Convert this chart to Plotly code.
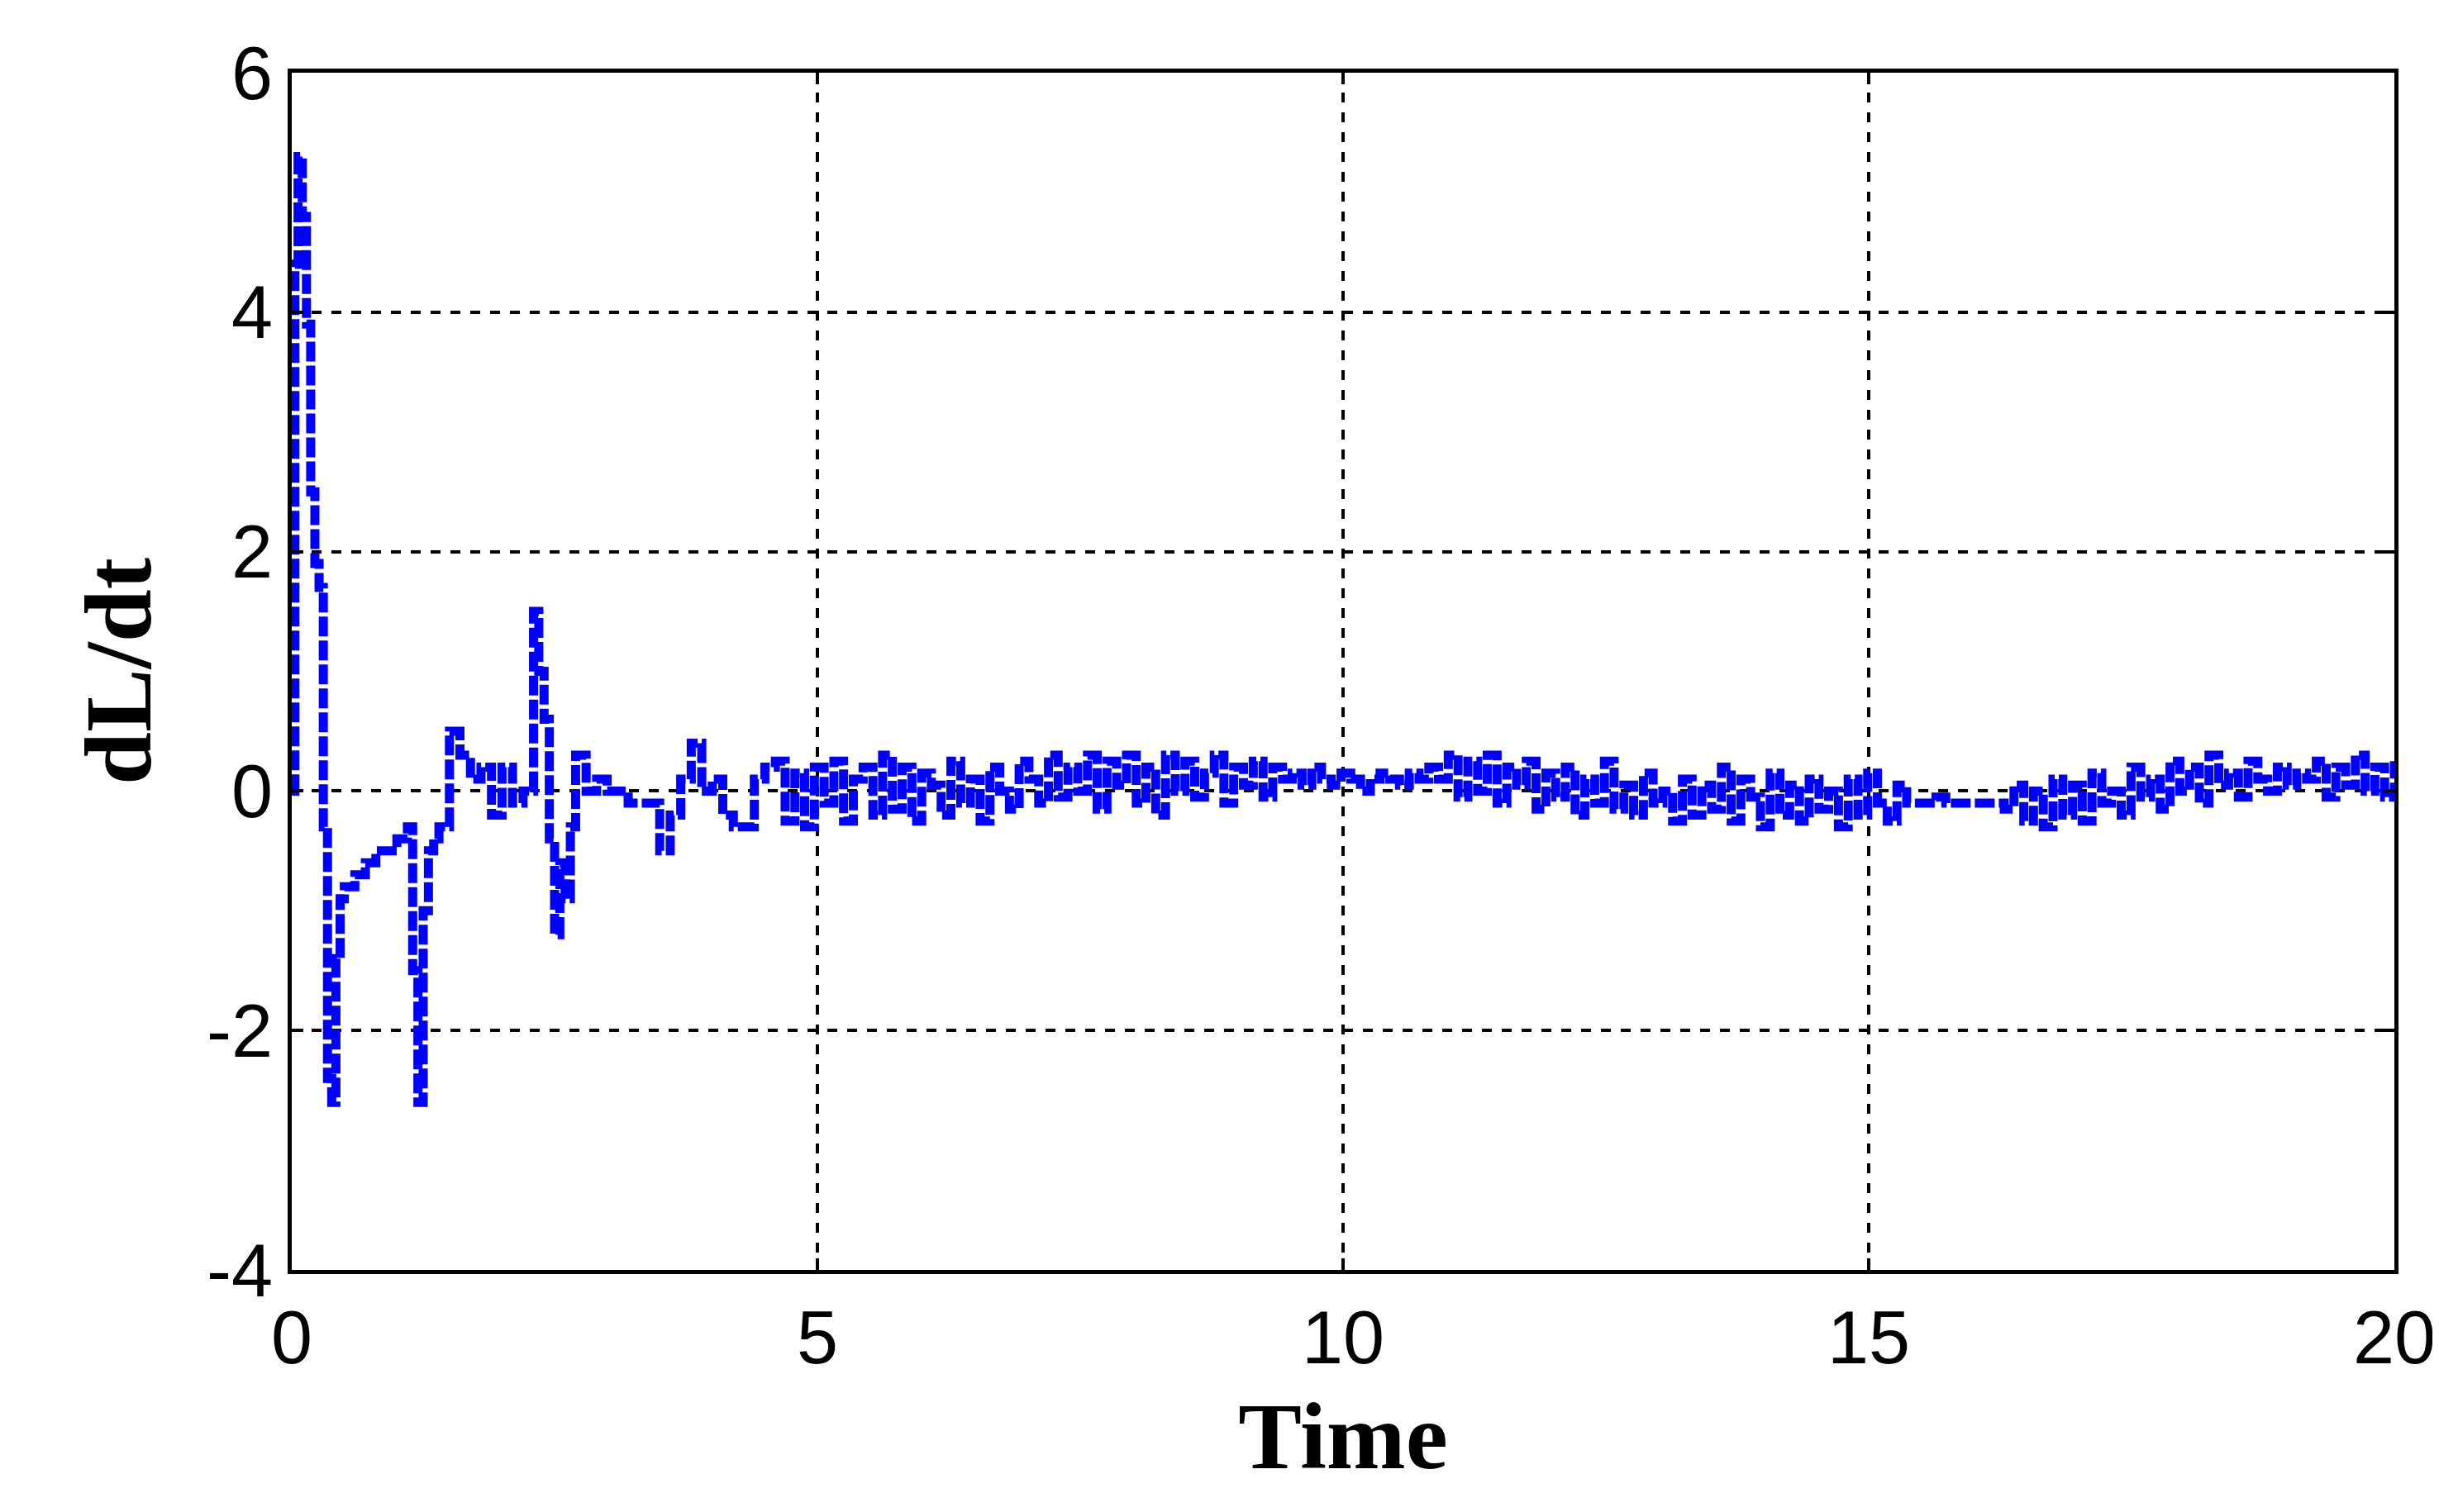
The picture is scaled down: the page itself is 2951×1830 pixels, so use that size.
import plotly.graph_objects as go

# early transient (hand-read)
t_early = [0, 0.03, 0.06, 0.1, 0.14, 0.18, 0.22, 0.26, 0.3, 0.34, 0.38, 0.42, 0.46, 0.5,
           0.6, 0.7, 0.8, 0.9, 1.0, 1.1, 1.15, 1.2, 1.25, 1.3, 1.35, 1.4, 1.5, 1.6, 1.7,
           1.8, 1.9, 2.0, 2.1, 2.2, 2.3, 2.35, 2.4, 2.45, 2.5, 2.55, 2.6, 2.65, 2.7, 2.8,
           2.9, 3.0, 3.2, 3.4, 3.5, 3.6, 3.7, 3.8, 3.9, 4.0, 4.1, 4.2, 4.3, 4.4, 4.5]
y_early = [0, 4.4, 5.3, 4.8, 3.9, 2.5, 1.9, 1.7, -0.3, -2.4, -2.6, -1.4, -0.9, -0.8,
           -0.7, -0.6, -0.5, -0.5, -0.4, -0.3, -1.5, -2.6, -1.0, -0.5, -0.4, -0.3, 0.5, 0.3, 0.1,
           0.2, -0.2, 0.2, -0.1, 0.0, 1.5, 1.0, 0.6, -0.4, -1.2, -0.6, -0.9, -0.3, 0.3, 0.0,
           0.1, 0.0, -0.1, -0.1, -0.5, -0.2, 0.1, 0.4, 0.0, 0.1, -0.2, -0.3, -0.3, 0.1, 0.2]

# steady noisy part (hand-read, dense)
y_tail = [0.25, -0.25, 0.15, -0.3, 0.2, -0.1, 0.25, -0.25, 0.1, 0.2, -0.2, 0.3, -0.15,
          0.2, -0.25, 0.15, 0.05, -0.2, 0.25, -0.1, 0.1, -0.25, 0.2, 0.0, -0.15, 0.25,
          0.1, -0.1, 0.3, -0.05, 0.2, 0.0, 0.3, -0.15, 0.25, 0.05, 0.3, -0.1, 0.2, -0.2,
          0.3, 0.0, 0.25, -0.05, 0.15, 0.3, -0.1, 0.2, 0.05, 0.25, -0.05, 0.2, 0.1, 0.15,
          0.05, 0.2, 0.1, 0.05, 0.15, 0.1, 0.0, 0.1, 0.15, 0.1, 0.05, 0.15, 0.1, 0.2,
          0.1, 0.3, -0.05, 0.25, 0.0, 0.3, -0.1, 0.2, 0.05, 0.25, -0.15, 0.15, -0.05,
          0.2, -0.2, 0.1, -0.1, 0.25, -0.15, 0.05, -0.2, 0.15, -0.1, 0.0, -0.25, 0.1,
          -0.2, 0.05, -0.15, 0.2, -0.25, 0.1, -0.05, -0.3, 0.15, -0.2, 0.05, -0.25, 0.1,
          -0.15, 0.0, -0.3, 0.1, -0.2, 0.15, -0.1, -0.25, 0.05, -0.1, -0.1, -0.1, -0.05,
          -0.1, -0.1, -0.1, -0.1, -0.1, -0.1, -0.15, 0.05, -0.25, 0.0, -0.3, 0.1, -0.2,
          0.05, -0.25, 0.15, -0.1, 0.0, -0.2, 0.2, -0.05, 0.1, -0.15, 0.25, 0.0, 0.2,
          -0.1, 0.3, 0.05, 0.15, -0.05, 0.25, 0.1, 0.0, 0.2, 0.05, 0.15, 0.1, 0.25,
          -0.05, 0.2, 0.05, 0.3, 0.0, 0.2, -0.05, 0.25]
t_tail = [round(4.6 + 15.4 * i / (len(y_tail) - 1), 3) for i in range(len(y_tail))]

x_ticks = [0, 5, 10, 15, 20]
x_labels = ["0", "5", "10", "15", "20"]
y_ticks = [-4, -2, 0, 2, 4, 6]
y_labels = ["-4", "-2", "0", "2", "4", "6"]

t = t_early + t_tail
y = y_early + y_tail

fig = go.Figure(go.Scatter(x=t, y=y, mode="lines",
                           line=dict(color="#0000ff", width=11, dash="24px,5px", shape="hv")))

axis = dict(showline=True, linecolor="black", linewidth=5, mirror="ticks",
            ticks="inside", ticklen=14, tickwidth=4, tickcolor="black",
            showgrid=True, gridcolor="black", gridwidth=4, griddash="dash",
            zeroline=False, ticklabeloverflow="allow",
            tickfont=dict(family="Liberation Sans", size=90, color="black"))

fig.update_xaxes(range=[0, 20], tickvals=x_ticks, ticktext=x_labels,
                 title=dict(text="Time", standoff=30,
                 font=dict(family="Liberation Serif", size=115, color="black", weight="bold")), **axis)
fig.update_yaxes(range=[-4, 6], tickvals=y_ticks, ticktext=y_labels,
                 title=dict(text="dL/dt", standoff=30,
                 font=dict(family="Liberation Serif", size=115, color="black", weight="bold")), **axis)

fig.update_layout(width=2951, height=1830, plot_bgcolor="white", paper_bgcolor="white",
                  showlegend=False, margin=dict(l=345, r=52, t=80, b=301))

fig.write_html("out.html")
